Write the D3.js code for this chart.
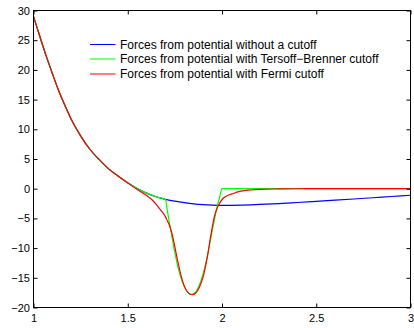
<!DOCTYPE html>
<html>
<head>
<meta charset="utf-8">
<script src="https://cdn.jsdelivr.net/npm/d3@7"></script>
<style>
  html, body { margin: 0; padding: 0; background: #fff; }
  svg { display: block; }
  text { font-family: "Liberation Sans", Arial, Helvetica, sans-serif; fill: #000; }
</style>
</head>
<body>
<svg id="chart" width="414" height="328"></svg>
<script>
// Distance values (x) and forces (y) for each potential variant
const rNoCut = [1.00, 1.02, 1.04, 1.07, 1.10, 1.13, 1.16, 1.20, 1.25, 1.30, 1.35, 1.40, 1.45, 1.50, 1.55, 1.60, 1.65, 1.70, 1.75, 1.80, 1.85, 1.90, 1.95, 2.00, 2.05, 2.10, 2.20, 2.30, 2.40, 2.50, 2.60, 2.70, 2.80, 2.90, 3.00];
const fNoCut = [29.0, 27.0, 25.0, 22.1, 19.4, 16.8, 14.5, 11.7, 8.9, 6.6, 4.85, 3.3, 2.1, 1.0, 0.05, -0.75, -1.35, -1.8, -2.1, -2.35, -2.55, -2.68, -2.76, -2.8, -2.8, -2.78, -2.65, -2.5, -2.32, -2.13, -1.93, -1.73, -1.52, -1.31, -1.1];

const rTB = [1.00, 1.02, 1.04, 1.07, 1.10, 1.13, 1.16, 1.20, 1.25, 1.30, 1.35, 1.40, 1.45, 1.50, 1.55, 1.60, 1.65, 1.70, 1.71, 1.725, 1.74, 1.76, 1.78, 1.80, 1.82, 1.84, 1.86, 1.88, 1.90, 1.92, 1.94, 1.96, 1.98, 1.99, 2.00, 2.50, 3.00];
const fTB = [29.0, 27.0, 25.0, 22.1, 19.4, 16.8, 14.5, 11.7, 8.9, 6.6, 4.85, 3.3, 2.1, 1.0, 0.05, -0.75, -1.35, -1.8, -3.7, -6.5, -9.1, -12.3, -14.8, -16.5, -17.5, -17.8, -17.4, -16.2, -14.3, -11.7, -8.5, -5.2, -2.3, -1.1, 0, 0, 0];

const rFermi = [1.00, 1.02, 1.04, 1.07, 1.10, 1.13, 1.16, 1.20, 1.25, 1.30, 1.35, 1.40, 1.45, 1.50, 1.55, 1.60, 1.63, 1.66, 1.68, 1.70, 1.71, 1.725, 1.74, 1.76, 1.78, 1.80, 1.82, 1.84, 1.86, 1.88, 1.90, 1.92, 1.94, 1.96, 1.975, 1.99, 2.005, 2.03, 2.06, 2.10, 2.15, 2.20, 2.30, 2.40, 2.50, 3.00];
const fFermi = [29.0, 27.0, 25.0, 22.1, 19.4, 16.8, 14.5, 11.7, 8.9, 6.6, 4.85, 3.3, 2.1, 0.95, -0.15, -1.15, -1.9, -3.0, -3.8, -4.7, -5.4, -6.5, -8.3, -11.4, -14.3, -16.4, -17.5, -17.85, -17.6, -16.6, -14.8, -11.9, -8.0, -4.6, -3.2, -2.3, -1.65, -1.15, -0.8, -0.42, -0.22, -0.11, -0.04, -0.01, 0, 0];

const seriesNames = [
  "Forces from potential without a cutoff",
  "Forces from potential with Tersoff\u2212Brenner cutoff",
  "Forces from potential with Fermi cutoff"
];
const seriesColors = ["#0000ff", "#00ff00", "#ff0000"];

const xTicks = [1, 1.5, 2, 2.5, 3];
const xTickLabels = ["1", "1.5", "2", "2.5", "3"];
const yTicks = [-20, -15, -10, -5, 0, 5, 10, 15, 20, 25, 30];
const yTickLabels = ["\u221220", "\u221215", "\u221210", "\u22125", "0", "5", "10", "15", "20", "25", "30"];

const svg = d3.select("#chart");
const boxLeft = 33.5, boxRight = 410.5, boxTop = 10.5, boxBottom = 307.5;

const x = d3.scaleLinear().domain([1, 3]).range([boxLeft, boxRight]);
const y = d3.scaleLinear().domain([-20, 30]).range([boxBottom, boxTop]);

const series = [
  { r: rNoCut, f: fNoCut },
  { r: rTB, f: fTB },
  { r: rFermi, f: fFermi }
];

// Clip curves to the axes box
svg.append("clipPath").attr("id", "plotClip")
  .append("rect").attr("x", boxLeft).attr("y", boxTop)
  .attr("width", boxRight - boxLeft).attr("height", boxBottom - boxTop);

const line = d3.line()
  .x(d => x(d[0]))
  .y(d => y(d[1]))
  .curve(d3.curveMonotoneX);

const plot = svg.append("g").attr("clip-path", "url(#plotClip)");
series.forEach((s, i) => {
  const pts = s.r.map((r, j) => [r, s.f[j]]);
  plot.append("path")
    .datum(pts)
    .attr("d", line)
    .attr("fill", "none")
    .attr("stroke", seriesColors[i])
    .attr("stroke-width", 1.2)
    .attr("stroke-linejoin", "round");
});

// Axes: ticks point inward, labels on bottom and left only
function styleAxis(g) {
  g.select(".domain").remove();
  g.selectAll(".tick line").attr("stroke", "#000").attr("stroke-width", 1);
  g.selectAll(".tick text").style("font-size", "11px");
}

svg.append("g")
  .attr("transform", `translate(0,${boxBottom})`)
  .call(d3.axisBottom(x).tickValues(xTicks).tickFormat((d, i) => xTickLabels[i])
    .tickSize(-4).tickPadding(7))
  .call(styleAxis)
  .selectAll(".tick text").attr("dy", "0.71em");

svg.append("g")
  .attr("transform", `translate(0,${boxTop})`)
  .call(d3.axisTop(x).tickValues(xTicks).tickFormat("").tickSize(-4))
  .call(styleAxis);

svg.append("g")
  .attr("transform", `translate(${boxLeft},0)`)
  .call(d3.axisLeft(y).tickValues(yTicks).tickFormat((d, i) => yTickLabels[i])
    .tickSize(-4).tickPadding(3.5))
  .call(styleAxis);

svg.append("g")
  .attr("transform", `translate(${boxRight},0)`)
  .call(d3.axisRight(y).tickValues(yTicks).tickFormat("").tickSize(-4))
  .call(styleAxis);

svg.append("rect")
  .attr("x", boxLeft).attr("y", boxTop)
  .attr("width", boxRight - boxLeft).attr("height", boxBottom - boxTop)
  .attr("fill", "none").attr("stroke", "#000").attr("stroke-width", 1);

// Legend
const legendRows = [44.5, 59, 74];
const legend = svg.append("g");
seriesNames.forEach((name, i) => {
  legend.append("line")
    .attr("x1", 90).attr("x2", 115.5)
    .attr("y1", legendRows[i]).attr("y2", legendRows[i])
    .attr("stroke", seriesColors[i]).attr("stroke-width", 1);
  legend.append("text")
    .attr("x", 120).attr("y", legendRows[i])
    .attr("dy", "0.35em")
    .style("font-size", "12px")
    .text(name);
});
</script>
</body>
</html>
